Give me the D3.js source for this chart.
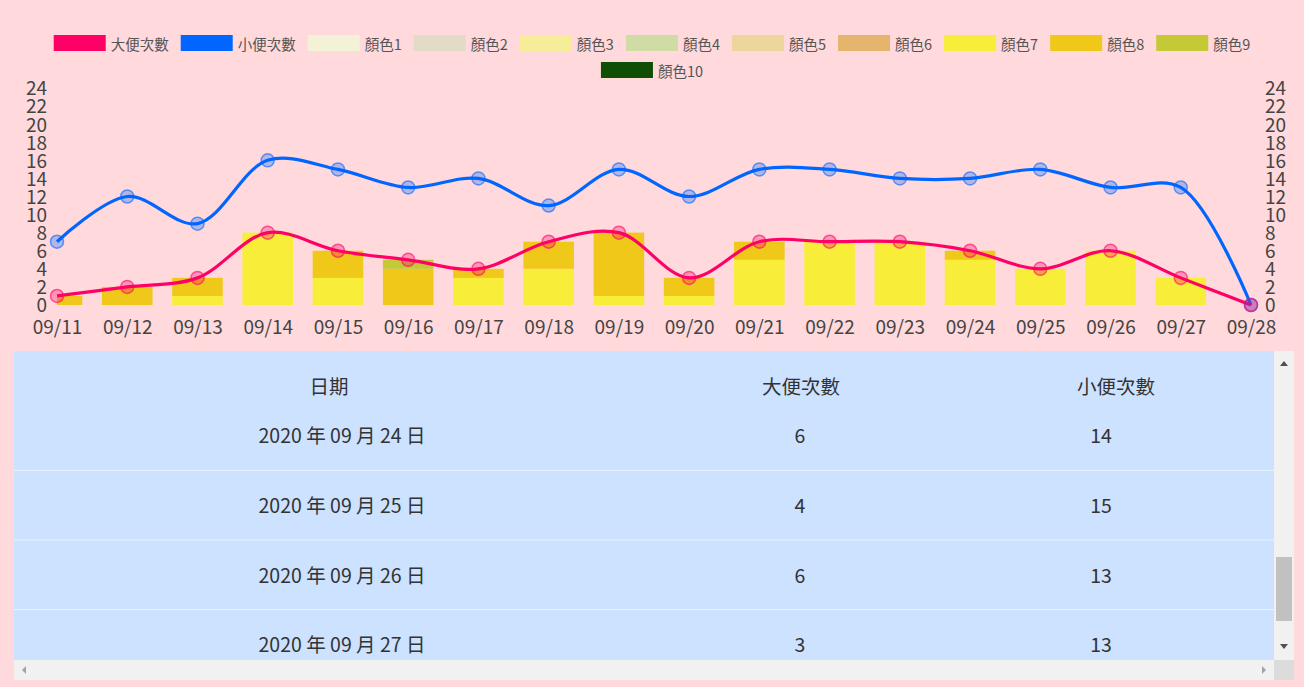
<!DOCTYPE html>
<html><head><meta charset="utf-8">
<script src="https://cdn.jsdelivr.net/npm/d3@7"></script>
<style>
html,body{margin:0;padding:0;background:#ffd9db;overflow:hidden}
text{font-family:"Noto Sans CJK TC","Noto Sans",sans-serif}
</style></head>
<body><svg id="c" width="1304" height="687"></svg>
<script>
const dates = ["09/11","09/12","09/13","09/14","09/15","09/16","09/17","09/18","09/19","09/20","09/21","09/22","09/23","09/24","09/25","09/26","09/27","09/28"];
const bigCounts = [1,2,3,8,6,5,4,7,8,3,7,7,7,6,4,6,3,0];
const smallCounts = [7,12,9,16,15,13,14,11,15,12,15,15,14,14,15,13,13,0];
// stacked colour bars (顏色7, 顏色8, 顏色9)
const color7 = [0,0,1,8,3,0,3,4,1,1,5,7,7,5,4,6,3,0];
const color8 = [1,2,2,0,3,4,1,3,7,2,2,0,0,1,0,0,0,0];
const color9 = [0,0,0,0,0,1,0,0,0,0,0,0,0,0,0,0,0,0];
const yTicks = [0,2,4,6,8,10,12,14,16,18,20,22,24];
const legendNames = ["大便次數","小便次數","顏色1","顏色2","顏色3","顏色4","顏色5","顏色6","顏色7","顏色8","顏色9","顏色10"];
const legendColors = ["#ff0066","#0066ff","#f3f1d6","#e2dcc6","#f7ed98","#d0dca5","#ecd69b","#e5b56d","#f8ee3a","#f0c81a","#c4c935","#0f4e05"];
const tableHeaders = ["日期","大便次數","小便次數"];
const tableDates = dates.map(d => "2020 年 " + d.slice(0,2) + " 月 " + d.slice(3) + " 日");

const svg = d3.select("#c");
const W = 1304;

// ---- legend ----
const lg = svg.append("g").attr("font-size", 14.5).attr("fill", "#555");
const boxW = 52, boxH = 16, maxRow = 1240, gap = 12;
const items = legendNames.map((n, i) => {
  const t = lg.append("text").text(n).attr("dominant-baseline","central");
  const tw = t.node().getComputedTextLength();
  return {n, c: legendColors[i], t, w: boxW + 5 + tw + gap};
});
let rows = [[]], rw = [0];
items.forEach(it => {
  if (rw[rw.length-1] + it.w > maxRow) { rows.push([]); rw.push(0); }
  rows[rows.length-1].push(it); rw[rw.length-1] += it.w;
});
rows.forEach((r, ri) => {
  let x = (W - (rw[ri] - gap)) / 2;
  const cy = 43 + ri * 27;
  r.forEach(it => {
    lg.append("rect").attr("x", x).attr("y", cy - boxH/2).attr("width", boxW).attr("height", boxH).attr("fill", it.c);
    it.t.attr("x", x + boxW + 5).attr("y", cy);
    x += it.w;
  });
});

// ---- chart ----
const x0 = 57, x1 = 1251, yb = 305, yt = 88;
const x = d3.scalePoint().domain(dates).range([x0, x1]);
const y = d3.scaleLinear().domain([0, 24]).range([yb, yt]);
const bw = x.step() * 0.72;

svg.append("clipPath").attr("id","plotclip").append("rect").attr("x", x0).attr("y", 0).attr("width", x1 - x0).attr("height", 400);
const barG = svg.append("g").attr("clip-path","url(#plotclip)");
const stackData = dates.map((d, i) => ({d, c7: color7[i], c8: color8[i], c9: color9[i]}));
const stack = d3.stack().keys(["c7","c8","c9"])(stackData);
const stackCols = {c7: legendColors[8], c8: legendColors[9], c9: legendColors[10]};
stack.forEach(layer => {
  barG.selectAll(null).data(layer).join("rect")
    .attr("x", d => x(d.data.d) - bw/2)
    .attr("width", bw)
    .attr("y", d => y(d[1]))
    .attr("height", d => y(d[0]) - y(d[1]))
    .attr("fill", stackCols[layer.key]);
});

// axes
const axL = svg.append("g").attr("transform", `translate(${x0 - 10},0)`)
  .call(d3.axisLeft(y).tickValues(yTicks).tickSize(0).tickPadding(0));
const axR = svg.append("g").attr("transform", `translate(${x1 + 14},0)`)
  .call(d3.axisRight(y).tickValues(yTicks).tickSize(0).tickPadding(0));
const axB = svg.append("g").attr("transform", `translate(0,${yb + 16})`)
  .call(d3.axisBottom(x).tickSize(0).tickPadding(0));
[axL, axR, axB].forEach(a => {
  a.select(".domain").remove();
  a.selectAll("text").attr("font-family", '"Noto Sans CJK TC","Noto Sans",sans-serif').attr("font-size", 19).attr("fill", "#444");
});
axL.selectAll("text").attr("dy", "0.36em");
axR.selectAll("text").attr("dy", "0.36em");
axB.selectAll("text").attr("dy", "0.7em");

// lines
const line = d3.line().x((d, i) => x(dates[i])).y(d => y(d)).curve(d3.curveCatmullRom.alpha(0.5));
const series = [
  {v: smallCounts, c: "#0066ff", fill: "rgba(0,102,255,0.3)"},
  {v: bigCounts, c: "#ff0066", fill: "rgba(255,0,102,0.3)"}
];
series.forEach(s => {
  svg.append("path").attr("d", line(s.v)).attr("fill","none").attr("stroke", s.c).attr("stroke-width", 3.2);
});
series.forEach(s => {
  svg.append("g").selectAll("circle").data(s.v).join("circle")
    .attr("cx", (d, i) => x(dates[i])).attr("cy", d => y(d)).attr("r", 6.5)
    .attr("fill", s.fill).attr("stroke", s.c).attr("stroke-opacity", 0.6).attr("stroke-width", 1.5);
});

// ---- table ----
const tx0 = 14, tx1 = 1274, ty0 = 351, ty1 = 660;
const headH = 68, rowH = 69.6;
const headX = [329, 801, 1116];
const cellX = [342, 800, 1101];
const scroll = ty0 + headH + 13 * rowH + rowH / 2 - 436; // 09/24 row centred at y=436
svg.append("rect").attr("x", tx0).attr("y", ty0).attr("width", tx1 - tx0).attr("height", ty1 - ty0).attr("fill", "#cce2ff");
svg.append("clipPath").attr("id","tclip").append("rect").attr("x", tx0).attr("y", ty0).attr("width", tx1 - tx0).attr("height", ty1 - ty0);
const tg = svg.append("g").attr("clip-path","url(#tclip)");
const rowsG = tg.append("g");
const rowY = i => ty0 + headH + i * rowH - scroll;
const visible = tableDates.map((d, i) => ({d, i})).filter(r => rowY(r.i) + rowH > ty0 + headH - rowH && rowY(r.i) < ty1);
const rowSel = rowsG.selectAll("g").data(visible).join("g").attr("transform", r => `translate(0,${rowY(r.i)})`);
rowSel.append("rect").attr("x", tx0).attr("y", 0).attr("width", tx1 - tx0).attr("height", rowH).attr("fill", "#cce2ff");
rowSel.append("line").attr("x1", tx0).attr("x2", tx1).attr("y1", rowH).attr("y2", rowH).attr("stroke", "#eaf3ff").attr("stroke-width", 2);
rowSel.each(function(r) {
  const g = d3.select(this);
  if (rowY(r.i) + rowH / 2 < ty0 + headH) return;
  [r.d, bigCounts[r.i], smallCounts[r.i]].forEach((v, j) => {
    g.append("text").attr("x", cellX[j]).attr("y", rowH / 2 - 1).attr("text-anchor","middle").attr("dominant-baseline","central")
      .attr("font-size", 19.5).attr("fill", "#333").text(v);
  });
});
tg.append("rect").attr("x", tx0).attr("y", ty0).attr("width", tx1 - tx0).attr("height", headH).attr("fill", "#cce2ff");
tableHeaders.forEach((h, j) => {
  tg.append("text").attr("x", headX[j]).attr("y", ty0 + 34).attr("text-anchor","middle").attr("dominant-baseline","central")
    .attr("font-size", 19.5).attr("fill", "#333").text(h);
});

// scrollbars
svg.append("rect").attr("x", tx1).attr("y", ty0).attr("width", 20).attr("height", ty1 - ty0).attr("fill", "#f1f1f1");
svg.append("rect").attr("x", tx1 + 2).attr("y", 557).attr("width", 16).attr("height", 64).attr("fill", "#c1c1c1");
svg.append("path").attr("d", `M${tx1+6},366 L${tx1+14},366 L${tx1+10},361 Z`).attr("fill", "#505050");
svg.append("path").attr("d", `M${tx1+6},644 L${tx1+14},644 L${tx1+10},649 Z`).attr("fill", "#505050");
svg.append("rect").attr("x", tx0).attr("y", ty1).attr("width", tx1 - tx0).attr("height", 20).attr("fill", "#f1f1f1");
svg.append("rect").attr("x", tx1).attr("y", ty1).attr("width", 20).attr("height", 20).attr("fill", "#dcdcdc");
svg.append("path").attr("d", `M${tx0+12},666 L${tx0+12},674 L${tx0+8},670 Z`).attr("fill", "#a3a3a3");
svg.append("path").attr("d", `M${tx1-12},666 L${tx1-12},674 L${tx1-8},670 Z`).attr("fill", "#a3a3a3");
</script></body></html>
